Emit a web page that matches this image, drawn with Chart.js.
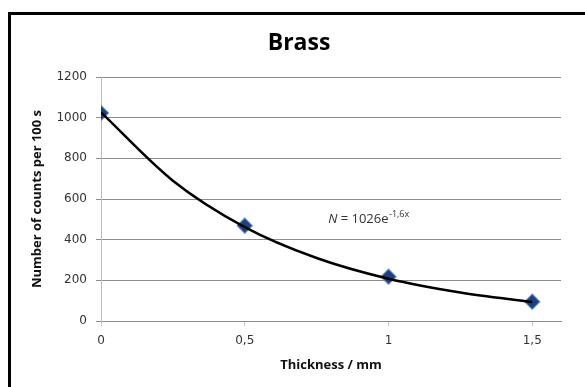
<!DOCTYPE html>
<html>
<head>
<meta charset="utf-8">
<title>Brass</title>
<script src="https://cdn.jsdelivr.net/npm/chart.js@4"></script>
<style>
    body { margin: 0; background: #fff; overflow: hidden; }
    #brass-chart { display: block; }
</style>
</head>
<body>
<canvas id="brass-chart" width="585" height="387"></canvas>
<script>
// measured counts for each brass thickness
var thicknessMm = [0, 0.5, 1, 1.5];
var countsPer100s = [1023, 469, 218, 95];

// fitted exponential trend, N = 1026e^-1,6x
var trendThickness = [0, 0.25, 0.5, 0.75, 1, 1.25, 1.5];
var trendCounts = [1026, 690, 462, 310, 208, 140, 93];

var xTickValues = [0, 0.5, 1, 1.5];
var yTickValues = [0, 200, 400, 600, 800, 1000, 1200];

var chartTitle = 'Brass';
var trendCoef = '1026';
var trendExp = '-1,6x';

function toPoints(xs, ys) {
    return xs.map(function (x, i) { return {x: x, y: ys[i]}; });
}

function commaDecimal(v) {
    return String(v).replace('.', ',');
}

// frame edges (only top and left fall on the page) and the title
var framePlugin = {
    id: 'frame',
    beforeDraw: function (chart) {
        var ctx = chart.ctx;
        ctx.save();
        ctx.strokeStyle = '#000';
        ctx.lineWidth = 3;
        ctx.beginPath();
        ctx.moveTo(9.5, chart.height + 5);
        ctx.lineTo(9.5, 13.5);
        ctx.lineTo(chart.width + 5, 13.5);
        ctx.stroke();
        ctx.fillStyle = '#000';
        ctx.font = 'bold 23px "Open Sans"';
        ctx.textAlign = 'center';
        ctx.textBaseline = 'alphabetic';
        ctx.fillText(chartTitle, 299, 50);
        ctx.restore();
    }
};

// trend equation with italic N and a superscript exponent
var equationPlugin = {
    id: 'equation',
    afterDatasetsDraw: function (chart) {
        var ctx = chart.ctx;
        var x = chart.scales.x.getPixelForValue(0.79);
        var y = chart.scales.y.getPixelForValue(480);
        ctx.save();
        ctx.fillStyle = '#333';
        ctx.textBaseline = 'alphabetic';
        ctx.textAlign = 'left';
        ctx.font = 'italic 13px "Open Sans"';
        ctx.fillText('N', x, y);
        x += ctx.measureText('N').width;
        ctx.font = '13px "Open Sans"';
        var main = ' = ' + trendCoef + 'e';
        ctx.fillText(main, x, y);
        x += ctx.measureText(main).width;
        ctx.font = '9px "Open Sans"';
        ctx.fillText(trendExp, x + 0.5, y - 6);
        ctx.restore();
    }
};

var ctx = document.querySelector('#brass-chart');

var myChart = new Chart(ctx, {
    type: 'scatter',
    data: {
        datasets: [{
            data: toPoints(trendThickness, trendCounts),
            showLine: true,
            borderColor: '#000',
            borderWidth: 2.5,
            pointRadius: 0,
            cubicInterpolationMode: 'monotone',
            order: 0
        }, {
            data: toPoints(thicknessMm, countsPer100s),
            pointStyle: 'rectRot',
            pointRadius: 7.5,
            pointBackgroundColor: '#1a4283',
            pointBorderColor: 'rgba(70,120,190,0.6)',
            pointBorderWidth: 1.5,
            order: 1
        }]
    },
    options: {
        responsive: false,
        animation: false,
        layout: {
            padding: {left: 0, right: 24, top: 77, bottom: 0}
        },
        plugins: {
            legend: {display: false},
            tooltip: {enabled: false},
            title: {display: false}
        },
        scales: {
            x: {
                type: 'linear',
                min: 0,
                max: 1.6,
                afterBuildTicks: function (scale) {
                    scale.ticks = xTickValues.map(function (v) { return {value: v}; });
                },
                afterFit: function (scale) {
                    scale.height = 66;
                },
                grid: {
                    drawOnChartArea: false,
                    tickLength: 5,
                    color: '#c4c4c4'
                },
                border: {color: '#8c8c8c'},
                ticks: {
                    padding: 8,
                    color: '#333',
                    font: {family: '"DejaVu Sans"', size: 12},
                    callback: commaDecimal
                },
                title: {
                    display: true,
                    text: 'Thickness / mm',
                    color: '#111',
                    font: {family: '"Open Sans"', size: 13, weight: 'bold'},
                    padding: {top: 0, bottom: 14}
                }
            },
            y: {
                min: 0,
                max: 1200,
                afterBuildTicks: function (scale) {
                    scale.ticks = yTickValues.map(function (v) { return {value: v}; });
                },
                afterFit: function (scale) {
                    scale.width = 101;
                },
                grid: {
                    color: '#8c8c8c',
                    tickLength: 5
                },
                border: {color: '#bdbdbd'},
                ticks: {
                    padding: 9,
                    color: '#333',
                    font: {family: '"DejaVu Sans"', size: 12},
                    callback: function (v) { return String(v); }
                },
                title: {
                    display: true,
                    text: 'Number of counts per 100 s',
                    color: '#111',
                    font: {family: '"Open Sans"', size: 13, weight: 'bold'},
                    padding: {top: 29, bottom: 0}
                }
            }
        }
    },
    plugins: [framePlugin, equationPlugin]
});
</script>
</body>
</html>
